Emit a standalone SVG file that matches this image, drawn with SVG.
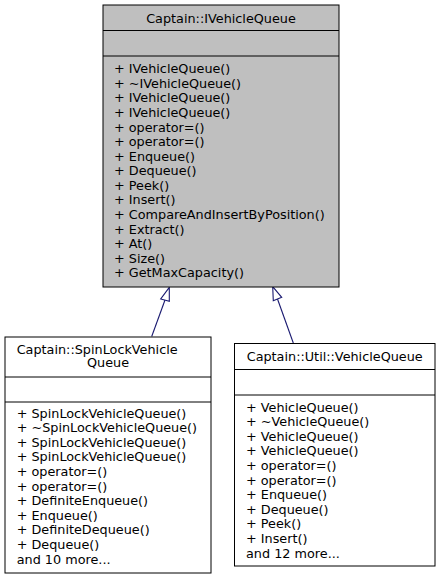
<svg xmlns="http://www.w3.org/2000/svg" width="440" height="580" viewBox="0 0 440 580">
<style>
.box{stroke:#000;stroke-width:1}
.t{font-family:"DejaVu Sans",sans-serif;font-size:12.8px;fill:#000}
.m{text-anchor:middle}
.e{fill:none;stroke:#191970;stroke-width:1.1}
.h{fill:#fff;stroke:#191970;stroke-width:1.1}
</style>
<rect width="440" height="580" fill="#fff"/>
<g id="connectors">
  <path class="e" d="M165,300 L151.7,336.5"/>
  <polygon class="h" points="169.3,287.3 160.7,299 169.3,301.3"/>
  <path class="e" d="M277.5,299 L293.3,343"/>
  <polygon class="h" points="272.7,286.7 273.3,300.7 281.7,297.3"/>
</g>
<g id="node-IVehicleQueue">
  <rect class="box" x="103" y="5" width="236" height="282" fill="#bfbfbf"/>
  <line class="box" x1="103" y1="30.5" x2="339" y2="30.5"/>
  <line class="box" x1="103" y1="56" x2="339" y2="56"/>
  <text class="t m" x="221" y="22.5">Captain::IVehicleQueue</text>
  <text class="t" x="114" y="73.3">+ IVehicleQueue()</text>
  <text class="t" x="114" y="87.9">+ ~IVehicleQueue()</text>
  <text class="t" x="114" y="102.4">+ IVehicleQueue()</text>
  <text class="t" x="114" y="117">+ IVehicleQueue()</text>
  <text class="t" x="114" y="131.6">+ operator=()</text>
  <text class="t" x="114" y="146.2">+ operator=()</text>
  <text class="t" x="114" y="160.7">+ Enqueue()</text>
  <text class="t" x="114" y="175.3">+ Dequeue()</text>
  <text class="t" x="114" y="189.9">+ Peek()</text>
  <text class="t" x="114" y="204.4">+ Insert()</text>
  <text class="t" x="114" y="219">+ CompareAndInsertByPosition()</text>
  <text class="t" x="114" y="233.6">+ Extract()</text>
  <text class="t" x="114" y="248.2">+ At()</text>
  <text class="t" x="114" y="262.7">+ Size()</text>
  <text class="t" x="114" y="277.3">+ GetMaxCapacity()</text>
</g>
<g id="node-SpinLockVehicleQueue">
  <rect class="box" x="5" y="337" width="206" height="236" fill="#fff"/>
  <line class="box" x1="5" y1="377" x2="211" y2="377"/>
  <line class="box" x1="5" y1="402" x2="211" y2="402"/>
  <text class="t" x="16.7" y="354">Captain::SpinLockVehicle</text>
  <text class="t m" x="108" y="367">Queue</text>
  <text class="t" x="16.7" y="417.6">+ SpinLockVehicleQueue()</text>
  <text class="t" x="16.7" y="432.2">+ ~SpinLockVehicleQueue()</text>
  <text class="t" x="16.7" y="446.8">+ SpinLockVehicleQueue()</text>
  <text class="t" x="16.7" y="461.4">+ SpinLockVehicleQueue()</text>
  <text class="t" x="16.7" y="476">+ operator=()</text>
  <text class="t" x="16.7" y="490.6">+ operator=()</text>
  <text class="t" x="16.7" y="505.2">+ DefiniteEnqueue()</text>
  <text class="t" x="16.7" y="519.8">+ Enqueue()</text>
  <text class="t" x="16.7" y="534.4">+ DefiniteDequeue()</text>
  <text class="t" x="16.7" y="549">+ Dequeue()</text>
  <text class="t" x="16.7" y="563.6">and 10 more...</text>
</g>
<g id="node-Util-VehicleQueue">
  <rect class="box" x="234.5" y="343.5" width="200.5" height="222.5" fill="#fff"/>
  <line class="box" x1="234.5" y1="369.5" x2="435" y2="369.5"/>
  <line class="box" x1="234.5" y1="395" x2="435" y2="395"/>
  <text class="t m" x="334.7" y="361">Captain::Util::VehicleQueue</text>
  <text class="t" x="246" y="411.5">+ VehicleQueue()</text>
  <text class="t" x="246" y="426.1">+ ~VehicleQueue()</text>
  <text class="t" x="246" y="440.7">+ VehicleQueue()</text>
  <text class="t" x="246" y="455.3">+ VehicleQueue()</text>
  <text class="t" x="246" y="469.9">+ operator=()</text>
  <text class="t" x="246" y="484.5">+ operator=()</text>
  <text class="t" x="246" y="499.1">+ Enqueue()</text>
  <text class="t" x="246" y="513.7">+ Dequeue()</text>
  <text class="t" x="246" y="528.3">+ Peek()</text>
  <text class="t" x="246" y="542.9">+ Insert()</text>
  <text class="t" x="246" y="557.5">and 12 more...</text>
</g>
</svg>
